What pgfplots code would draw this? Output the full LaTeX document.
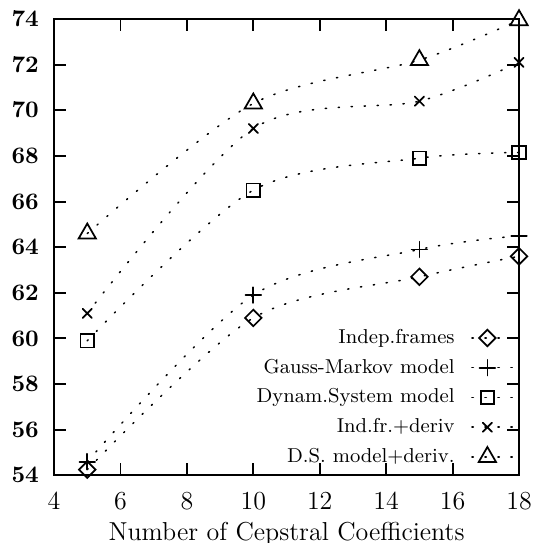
\documentclass[border=0pt]{standalone}
\usepackage{pgfplots}
\pgfplotsset{compat=1.18}
\usetikzlibrary{calc}
\begin{document}
\begin{tikzpicture}
\begin{axis}[
  scale only axis,
  width=215pt, height=211pt,
  xmin=4, xmax=18, ymin=54, ymax=74,
  xtick={4,6,...,18}, ytick={54,56,...,74},
  tick align=inside,
  major tick length=5.5pt,
  axis line style={line width=0.9pt},
  major tick style={line width=0.9pt, black},
  yticklabel style={font=\fontsize{11}{13}\selectfont\boldmath, xshift=-3.5pt},
  xticklabel style={font=\fontsize{11.5}{13}\selectfont, yshift=-4.5pt},
  xlabel={Number of Cepstral Coefficients},
  xlabel style={font=\fontsize{12}{14}\selectfont, yshift=1pt},
  legend style={at={(1.008,0.025)}, anchor=south east, yshift=-5pt, draw=none, fill=none,
    font=\fontsize{9.3}{11}\selectfont, row sep=1.7pt, legend cell align=right},
  legend plot pos=right,
  legend image code/.code={\path (0cm,0cm); \draw[mark repeat=2, mark phase=2, #1] plot coordinates {(0.2cm,0cm) (0.45cm,0cm) (0.9cm,0cm)};},
]
\pgfplotsset{every axis plot/.style={black, line width=0.7pt,
    dash pattern=on 0.6pt off 5.4pt, line cap=round, smooth}}
\addplot[mark=square, mark options={solid, line width=0.8pt, rotate=45, mark size=2.7pt}] coordinates {(5,54.25) (10,60.9) (15,62.7) (18,63.6)};
\addlegendentry{Indep.frames}
\addplot[mark=+, mark options={solid, line width=0.8pt, mark size=3.6pt}] coordinates {(5,54.6) (10,61.9) (15,63.9) (18,64.5)};
\addlegendentry{Gauss-Markov model}
\addplot[mark=square, mark options={solid, line width=0.8pt, mark size=3.1pt}] coordinates {(5,59.9) (10,66.5) (15,67.9) (18,68.15)};
\addlegendentry{Dynam.System model}
\addplot[mark=x, mark options={solid, line width=0.8pt, mark size=3pt}] coordinates {(5,61.1) (10,69.2) (15,70.4) (18,72.1)};
\addlegendentry{Ind.fr.+deriv}
\addplot[mark=triangle, mark options={solid, line width=0.8pt, mark size=4.6pt}] coordinates {(5,64.6) (10,70.3) (15,72.2) (18,73.95)};
\addlegendentry{D.S. model+deriv.}
\end{axis}
\pgfresetboundingbox
\path[use as bounding box] ($(current axis.south west)+(-25pt,-31pt)$) rectangle ($(current axis.north east)+(13.4pt,8.8pt)$);
\end{tikzpicture}
\end{document}
